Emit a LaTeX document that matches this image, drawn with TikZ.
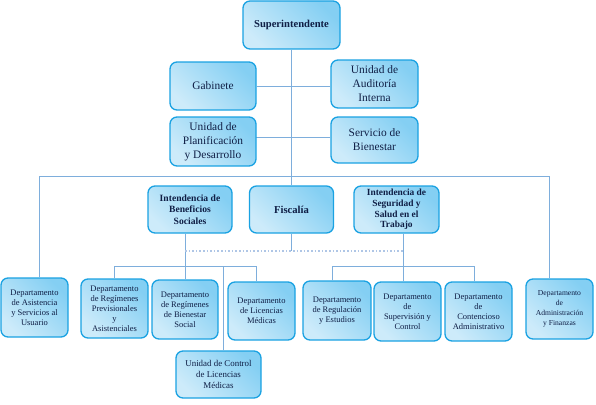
\documentclass[tikz,border=0pt]{standalone}
\usepackage{fontspec}
\setmainfont{Liberation Serif}
\usetikzlibrary{backgrounds}
\definecolor{boxline}{HTML}{1AA2E2}
\definecolor{boxlight}{HTML}{CDEBFA}
\definecolor{boxdark}{HTML}{84CFF3}
\definecolor{txt}{HTML}{0F1E45}
\definecolor{connc}{HTML}{7EAEDC}
\definecolor{dotc}{HTML}{AFC6E6}
\begin{document}
\begin{tikzpicture}[x=1pt,y=-1pt,
  box/.style={draw=boxline, line width=1.3pt, rounded corners=7pt,
    left color=boxlight, right color=boxdark, shading angle=135,
    text=txt, align=center, inner sep=1pt},
  bigbold/.style={font=\fontsize{10.6}{13}\selectfont\bfseries},
  midbold/.style={font=\fontsize{9.6}{11.5}\selectfont\bfseries},
  mid/.style={font=\fontsize{11.4}{14}\selectfont},
  small/.style={font=\fontsize{8.5}{10}\selectfont},
  conn/.style={draw=connc, line width=0.9pt},
  dots/.style={draw=dotc, line width=1.6pt, dotted}]
\useasboundingbox (0,0) rectangle (596,404);
% top
\node[box, bigbold, minimum width=97pt, minimum height=48pt] (sup) at (291.5,25) {Superintendente};
\node[box, mid, minimum width=86pt, minimum height=48pt] (gab) at (213,86) {Gabinete};
\node[box, mid, minimum width=87pt, minimum height=48pt] (aud) at (374.5,84) {Unidad de\\Auditoría\\Interna};
\node[box, mid, minimum width=86pt, minimum height=49pt] (pla) at (213,141.5) {Unidad de\\Planificación\\y Desarrollo};
\node[box, mid, minimum width=87pt, minimum height=46pt] (ser) at (374.5,140) {Servicio de\\Bienestar};
% middle
\node[box, midbold, minimum width=84pt, minimum height=47pt] (ibs) at (190,209.5) {Intendencia de\\Beneficios\\Sociales};
\node[box, bigbold, minimum width=84pt, minimum height=47pt] (fis) at (291.5,209.5) {Fiscalía};
\node[box, font=\fontsize{9.4}{10.7}\selectfont\bfseries, minimum width=85pt, minimum height=47pt] (iss) at (396.5,209.5) {Intendencia de\\Seguridad y\\Salud en el\\Trabajo};
% bottom
\node[box, small, minimum width=67pt, minimum height=59pt] (asi) at (34.5,307.5) {Departamento\\de Asistencia\\y Servicios al\\Usuario};
\node[box, small, minimum width=67pt, minimum height=59pt] (rp) at (114.5,308.5) {Departamento\\de Regímenes\\Previsionales\\y\\Asistenciales};
\node[box, small, minimum width=66pt, minimum height=59pt] (rb) at (185,309.5) {Departamento\\de Regímenes\\de Bienestar\\Social};
\node[box, small, minimum width=67pt, minimum height=58pt] (lm) at (261.5,311) {Departamento\\de Licencias\\Médicas};
\node[box, font=\fontsize{8.9}{10.8}\selectfont, minimum width=85pt, minimum height=47pt] (uc) at (218.5,374.5) {Unidad de Control\\de Licencias\\Médicas};
\node[box, small, minimum width=68pt, minimum height=59pt] (reg) at (337,310.5) {Departamento\\de Regulación\\y Estudios};
\node[box, small, minimum width=67pt, minimum height=59pt] (spc) at (407.5,311.5) {Departamento\\de\\Supervisión y\\Control};
\node[box, small, minimum width=67pt, minimum height=59pt] (con) at (478.5,311.5) {Departamento\\de\\Contencioso\\Administrativo};
\node[box, font=\fontsize{7.6}{10}\selectfont, minimum width=67pt, minimum height=60pt] (adm) at (559.5,309) {Departamento\\de\\Administración\\y Finanzas};
% junction coordinates
\coordinate (pl) at (256,137);
\coordinate (hL) at (39,176);
\coordinate (hR) at (549,176);
\coordinate (jb) at (185,266);
\coordinate (rpx) at (114,266);
\coordinate (lmx) at (256,266);
\coordinate (ucx) at (223,266);
\coordinate (dL) at (185,251);
\coordinate (dR) at (403,251);
\coordinate (sx) at (403,266);
\coordinate (rx) at (332,266);
\coordinate (cx) at (474,266);
\begin{pgfonlayer}{background}
\draw[conn] (sup.south) -- (fis.north);
\draw[conn] (gab.east) -- (gab.east -| aud.west);
\draw[conn] (pl) -- (pl -| ser.west);
\draw[conn] (asi.north -| hL) -- (hL) -- (hR) -- (adm.north -| hR);
\draw[conn] (ibs.south -| jb) -- (rb.north -| jb);
\draw[conn] (rp.north -| rpx) -- (rpx) -- (lmx) -- (lm.north -| lmx);
\draw[conn] (ucx) -- (uc.north -| ucx);
\draw[conn] (fis.south) -- (fis.south |- dL);
\draw[dots] (dL) -- (dR);
\draw[conn] (iss.south -| sx) -- (spc.north -| sx);
\draw[conn] (reg.north -| rx) -- (rx) -- (cx) -- (con.north -| cx);
\end{pgfonlayer}
\end{tikzpicture}
\end{document}
